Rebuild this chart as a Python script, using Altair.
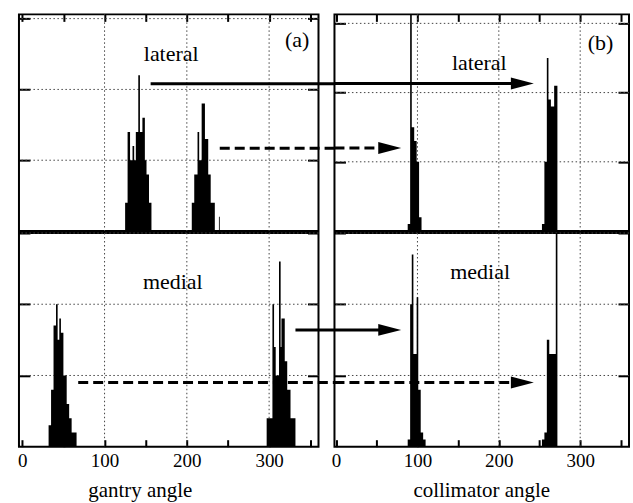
import altair as alt
import pandas as pd

SERIF = "Liberation Serif"

X_TICKS = [0, 50, 100, 150, 200, 250, 300, 350]
X_GRID = [100, 200, 300]
Y_TICKS = [10, 20, 30]

# Counts in consecutive 1-degree bins, keyed by the first bin of each run
gantry_lateral = {
    125: [4, 4, 4, 14, 14, 14, 10, 10, 10, 12, 12, 10, 10, 14, 14, 14,
          22, 22, 14, 14, 14, 16, 16, 16, 10, 10, 8, 8, 8, 4, 4, 4],
    206: [4, 4, 4, 8, 8, 8, 8, 14, 14, 10, 10, 10, 18, 18, 18, 18,
          13, 13, 13, 13, 8, 8, 8, 4, 4, 4, 4, 4],
    239: [2],
}
gantry_medial = {
    32: [3, 3, 3, 8, 8, 8, 17, 17, 17, 20, 20, 15, 15, 18, 18, 16, 16, 16,
         10, 10, 10, 10, 6, 6, 6, 4, 4, 4, 2, 2, 2, 2, 2, 2],
    297: [4, 4, 4, 4, 4, 4, 4, 20, 20, 14, 14, 10, 10, 10, 10, 26, 26, 14,
          18, 18, 18, 18, 12, 12, 12, 8, 8, 8, 8, 4, 4, 4, 4, 4, 4],
}
collimator_lateral = {
    88: [1, 1, 1, 34, 34, 15, 15, 15, 13, 13, 13, 10, 10, 10, 2, 2, 2],
    253: [1, 1, 1, 10, 10, 10, 25, 25, 19, 19, 19, 18, 18, 18, 18,
          21, 21, 21, 21],
}
collimator_medial = {
    88: [1, 1, 1, 20, 20, 27, 27, 13, 13, 13, 13, 21, 21, 8, 8, 8,
         2, 2, 2, 1, 1, 1],
    253: [1, 1, 1, 2, 2, 2, 15, 15, 15, 13, 13, 13, 13, 13, 13, 13, 13,
          32, 32],
}

# Panel annotations: (text, angle, height)
gantry_lateral_text = [("lateral", 181, 24.0), ("(a)", 334, 26.0)]
gantry_medial_text = [("medial", 183, 22.1)]
collimator_lateral_text = [("lateral", 176, 23.3), ("(b)", 325, 26.1)]
collimator_medial_text = [("medial", 177, 23.5)]

# Arrows from the gantry panel to the collimator panel
arrow_style = ["solid", "dashed", "solid", "dashed"]
arrow_row = ["upper", "upper", "lower", "lower"]
arrow_start = [156, 240, 332, 68]        # gantry angle where the shaft starts
arrow_tip = [243, 80, 80, 243]           # collimator angle at the arrow tip
arrow_y_gantry = [20.8, 11.7, 16.4, 9.0]
arrow_y_collimator = [21.3, 12.0, 16.4, 9.0]

GANTRY_DOMAIN = [-4, 360]
COLLIMATOR_DOMAIN = [-2, 360]
GANTRY_EDGE = 380                         # just past the gap between panels
HEAD_BACK = 18                            # shaft stops under the arrow head
HEAD = "M0,0L-1,-0.26L-1,0.26Z"


def step_frame(hist):
    rows = []
    for start in sorted(hist):
        counts = hist[start]
        for i, c in enumerate(counts):
            rows.append({"angle": start + i, "count": c})
        rows.append({"angle": start + len(counts), "count": 0})
    return pd.DataFrame(rows)


def panel(hist, xdom, width, height, ymax, texts, row, pieces, heads,
          title="", title_x=0):
    xs = alt.Scale(domain=xdom, nice=False, zero=False)
    ys = alt.Scale(domain=[0, ymax], nice=False, zero=True)
    tick = dict(values=X_TICKS, tickSize=7, offset=-7, tickWidth=2,
                tickColor="black", domain=False, grid=False)
    if row == "upper":
        x_axis = alt.Axis(orient="top", labels=False, title="", **tick)
    else:
        x_axis = alt.Axis(
            orient="bottom",
            labelExpr="datum.value % 100 === 0 ? datum.label : ''",
            labelFont=SERIF, labelFontSize=19, labelColor="black",
            labelPadding=5, labelFlush=False, labelOverlap=False,
            title=title, titleFont=SERIF, titleFontSize=21,
            titleFontWeight="normal", titleColor="black",
            titleX=title_x, titleY=57, titleBaseline="alphabetic",
            **tick)
    ytick = dict(values=Y_TICKS, labels=False, title="", tickSize=11,
                 offset=-11, tickWidth=2, tickColor="black",
                 domain=False, grid=False)

    def X(field="angle"):
        return alt.X(f"{field}:Q", scale=xs, axis=x_axis)

    vgrid = alt.Chart(pd.DataFrame({"angle": X_GRID})).mark_rule(
        color="#444", strokeWidth=1, strokeDash=[1.5, 2.5]
    ).encode(x=X())

    hgrid = alt.Chart(pd.DataFrame({"count": Y_TICKS})).mark_rule(
        color="#444", strokeWidth=1, strokeDash=[1.5, 2.5]
    ).encode(y=alt.Y("count:Q", scale=ys,
                     axis=alt.Axis(orient="right", **ytick)))

    bars = alt.Chart(step_frame(hist)).mark_area(
        interpolate="step-after", color="black", clip=True
    ).encode(
        x=X(),
        y=alt.Y("count:Q", scale=ys, axis=alt.Axis(orient="left", **ytick)),
    )

    labels = alt.Chart(pd.DataFrame(texts, columns=["label", "angle", "count"])).mark_text(
        font=SERIF, fontSize=22, color="black", baseline="alphabetic", align="center"
    ).encode(
        x=X(),
        y=alt.Y("count:Q", scale=ys, axis=None),
        text="label:N",
    )

    layers = [vgrid, hgrid, bars, labels]

    if len(pieces):
        shafts = alt.Chart(pd.DataFrame(pieces)).mark_rule(
            strokeWidth=3, color="black"
        ).encode(
            x=X(),
            x2="angle2:Q",
            y=alt.Y("count:Q", scale=ys, axis=None),
            strokeDash=alt.StrokeDash(
                "style:N",
                scale=alt.Scale(domain=["solid", "dashed"], range=[[1, 0], [10, 5]]),
                legend=None,
            ),
        )
        layers.append(shafts)

    if len(heads):
        tips = alt.Chart(pd.DataFrame(heads)).mark_point(
            shape=HEAD, size=2116, filled=True, color="black",
            opacity=1, strokeWidth=0
        ).encode(
            x=X(),
            y=alt.Y("count:Q", scale=ys, axis=None),
        )
        layers.append(tips)

    return alt.layer(*layers).resolve_axis(y="independent").properties(
        width=width, height=height
    )


def gantry_pieces(row):
    out = []
    for s, r, a, y in zip(arrow_style, arrow_row, arrow_start, arrow_y_gantry):
        if r == row:
            out.append({"style": s, "angle": a, "angle2": GANTRY_EDGE, "count": y})
    return out


def collimator_pieces(row):
    out = []
    for s, r, t, y in zip(arrow_style, arrow_row, arrow_tip, arrow_y_collimator):
        if r == row:
            out.append({"style": s, "angle": COLLIMATOR_DOMAIN[0],
                        "angle2": t - HEAD_BACK, "count": y})
    return out


def collimator_heads(row):
    return [{"angle": t, "count": y}
            for r, t, y in zip(arrow_row, arrow_tip, arrow_y_collimator) if r == row]


upper_left = panel(gantry_lateral, GANTRY_DOMAIN, 300, 217, 30.6,
                   gantry_lateral_text, "upper", gantry_pieces("upper"), [])
lower_left = panel(gantry_medial, GANTRY_DOMAIN, 300, 214, 30.0,
                   gantry_medial_text, "lower", gantry_pieces("lower"), [],
                   title="gantry angle", title_x=121)
upper_right = panel(collimator_lateral, COLLIMATOR_DOMAIN, 295, 217, 31.3,
                    collimator_lateral_text, "upper",
                    collimator_pieces("upper"), collimator_heads("upper"))
lower_right = panel(collimator_medial, COLLIMATOR_DOMAIN, 295, 214, 30.0,
                    collimator_medial_text, "lower",
                    collimator_pieces("lower"), collimator_heads("lower"),
                    title="collimator angle", title_x=147)

# Each row places its two panels by their plot widths only
top_row = alt.hconcat(upper_left, upper_right, spacing=16, bounds="flush")
bottom_row = alt.hconcat(lower_left, lower_right, spacing=16, bounds="flush")

chart = alt.vconcat(top_row, bottom_row, spacing=-2).properties(
    padding={"left": 16, "top": 12, "right": 2, "bottom": 0},
    background="white",
).configure_view(stroke="black", strokeWidth=2)

chart.save("out.html", embed_options={"renderer": "svg", "actions": False})
